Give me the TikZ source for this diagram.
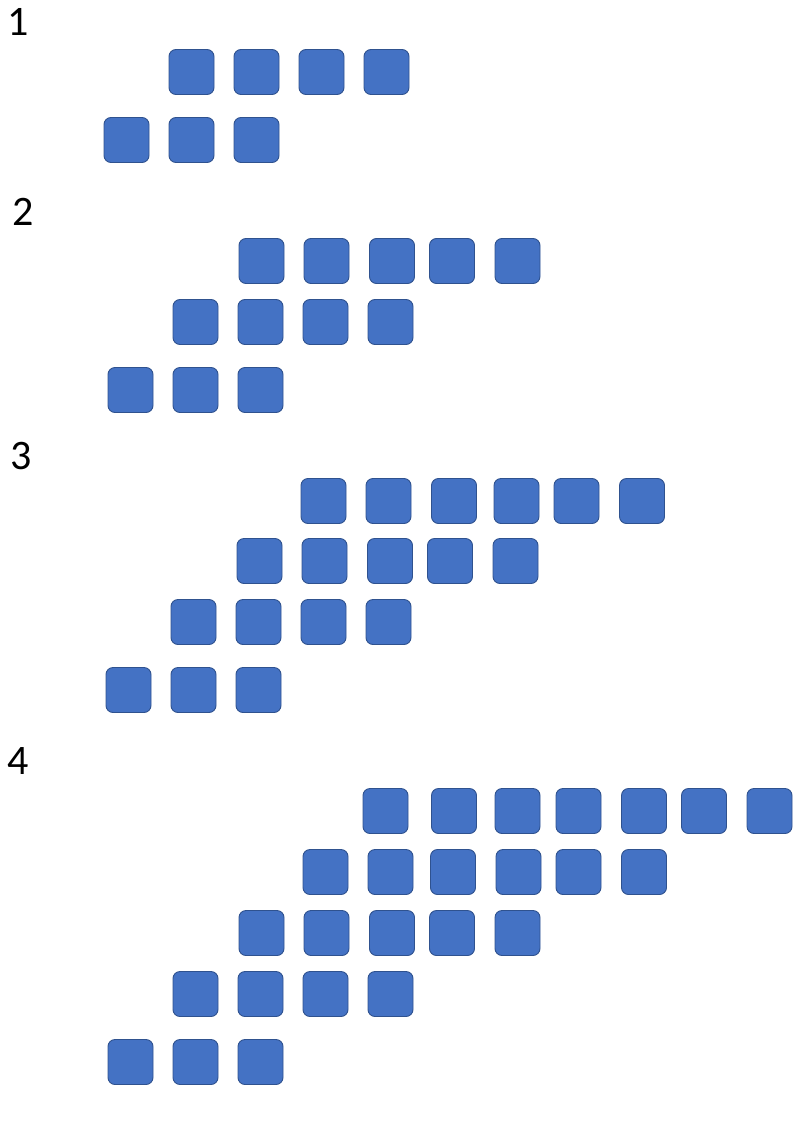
\documentclass[tikz,border=0pt]{standalone}
\usepackage{fontspec}
\setmainfont{Carlito}
\definecolor{boxfill}{HTML}{4472C4}
\definecolor{boxline}{HTML}{2F528F}
\begin{document}
\begin{tikzpicture}[x=1pt,y=-1pt,
  sq/.style={draw=boxline,fill=boxfill,line width=0.9pt,rounded corners=7pt,minimum size=45pt,inner sep=0pt,outer sep=0pt},
  lbl/.style={inner sep=0pt,font=\fontsize{42}{42}\selectfont}]
\useasboundingbox (0,0) rectangle (811,1127);
% labels
\node[lbl] (l1) at (18.5,21.5) {1};
\node[lbl] (l2) at (23.5,211.5) {2};
\node[lbl] (l3) at (21.5,456.5) {3};
\node[lbl] (l4) at (18,761.5) {4};
% panel 1
\foreach \x [count=\i] in {169,234,299,364} \node[sq] (a1c\i) at (\x+22.5,72) {};
\foreach \x [count=\i] in {104,169,234} \node[sq] (a2c\i) at (\x+22.5,140) {};
% panel 2
\foreach \x [count=\i] in {239,304,369.5,429.5,495} \node[sq] (b1c\i) at (\x+22.5,261) {};
\foreach \x [count=\i] in {173,238,303,368} \node[sq] (b2c\i) at (\x+22.5,322) {};
\foreach \x [count=\i] in {108,173,238} \node[sq] (b3c\i) at (\x+22.5,390) {};
% panel 3
\foreach \x [count=\i] in {301,366,431.5,494,554,619.5} \node[sq] (c1c\i) at (\x+22.5,501) {};
\foreach \x [count=\i] in {237,302,367.5,427.5,493} \node[sq] (c2c\i) at (\x+22.5,561) {};
\foreach \x [count=\i] in {171,236,301,366} \node[sq] (c3c\i) at (\x+22.5,622) {};
\foreach \x [count=\i] in {106,171,236} \node[sq] (c4c\i) at (\x+22.5,690) {};
% panel 4
\foreach \x [count=\i] in {363,431.5,495,556,621.5,681.5,747} \node[sq] (d1c\i) at (\x+22.5,811) {};
\foreach \x [count=\i] in {303,368,430.5,496,556,621.5} \node[sq] (d2c\i) at (\x+22.5,872) {};
\foreach \x [count=\i] in {239,304,369.5,429.5,495} \node[sq] (d3c\i) at (\x+22.5,933) {};
\foreach \x [count=\i] in {173,238,303,368} \node[sq] (d4c\i) at (\x+22.5,994) {};
\foreach \x [count=\i] in {108,173,238} \node[sq] (d5c\i) at (\x+22.5,1062) {};
\end{tikzpicture}
\end{document}
